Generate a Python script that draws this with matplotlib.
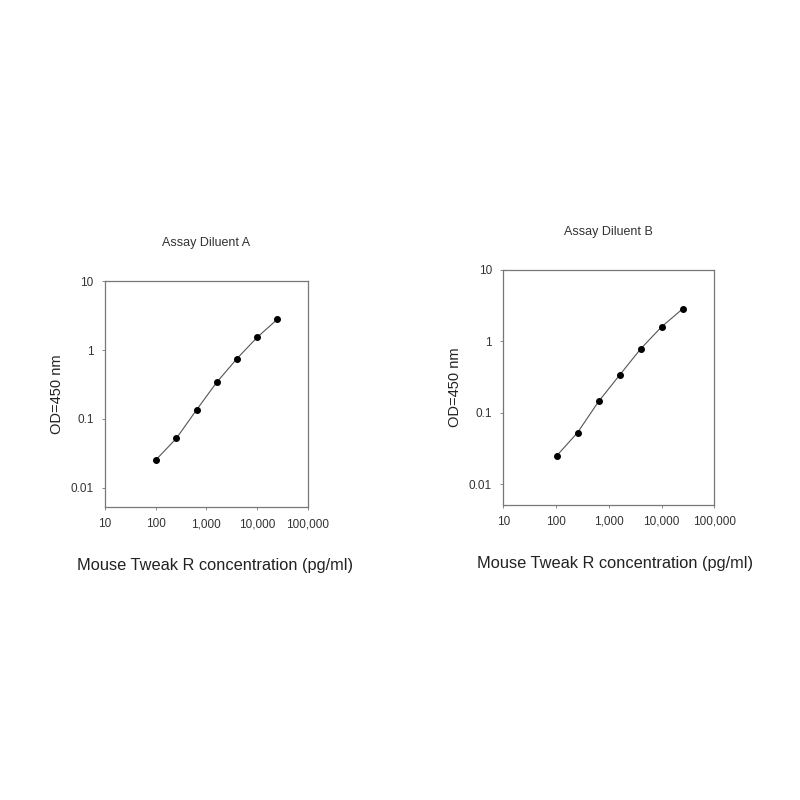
import numpy as np
import matplotlib
matplotlib.use('Agg')
import matplotlib.pyplot as plt
from matplotlib.ticker import FixedLocator, FixedFormatter, NullLocator

plt.rcParams['font.family'] = ['Liberation Sans', 'DejaVu Sans']

# Standard curve data
conc = [102.4, 256, 640, 1600, 4000, 10000, 25000]  # pg/ml
od_a = [0.0255, 0.052, 0.135, 0.34, 0.75, 1.53, 2.8]
od_b = [0.025, 0.053, 0.144, 0.336, 0.78, 1.59, 2.83]

titles = ['Assay Diluent A', 'Assay Diluent B']
xticks = [10, 100, 1000, 10000, 100000]
xtick_labels = ['10', '100', '1,000', '10,000', '100,000']
yticks = [0.01, 0.1, 1, 10]
ytick_labels = ['0.01', '0.1', '1', '10']

fig = plt.figure(figsize=(8, 8), dpi=100)
boxes = [[0.131, 0.366, 0.254, 0.2825], [0.629, 0.369, 0.264, 0.294]]
xlabel_x = [0.54, 0.53]

for box, title, od, lx in zip(boxes, titles, [od_a, od_b], xlabel_x):
    ax = fig.add_axes(box)
    ax.plot(conc, od, color='#555555', lw=0.8, marker='o', ms=4,
            mfc='black', mec='black')
    ax.set_xscale('log')
    ax.set_yscale('log')
    ax.set_xlim(10, 100000)
    ax.set_ylim(0.0052, 10)
    ax.xaxis.set_major_locator(FixedLocator(xticks))
    ax.xaxis.set_major_formatter(FixedFormatter(xtick_labels))
    ax.yaxis.set_major_locator(FixedLocator(yticks))
    ax.yaxis.set_major_formatter(FixedFormatter(ytick_labels))
    ax.xaxis.set_minor_locator(NullLocator())
    ax.yaxis.set_minor_locator(NullLocator())
    ax.tick_params(direction='out', length=2, width=0.6, colors='#777777',
                   labelcolor='#333333', labelsize=8.5, pad=6)
    for s in ax.spines.values():
        s.set_color('#777777')
        s.set_linewidth(0.9)
    ax.set_title(title, fontsize=9, color='#333333', pad=25)
    ax.set_xlabel('Mouse Tweak R concentration (pg/ml)', fontsize=11.8,
                  color='#222222', labelpad=20, x=lx)
    ax.set_ylabel('OD=450 nm', fontsize=10.5, color='#222222', labelpad=5)

fig.savefig('out.png', dpi=100)
